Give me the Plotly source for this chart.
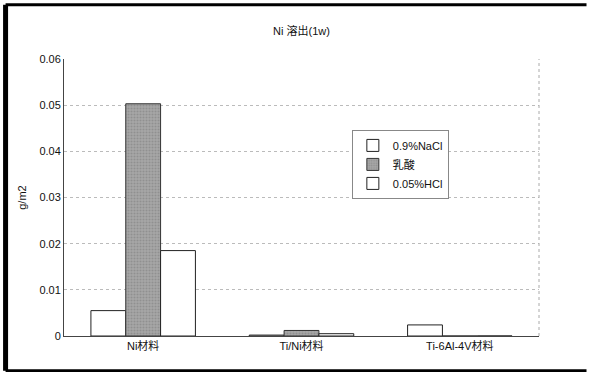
import plotly.graph_objects as go

categories = ["Ni材料", "Ti/Ni材料", "Ti-6Al-4V材料"]
nacl = [0.0055, 0.0002, 0.0024]
lactic = [0.0503, 0.0012, 0.0]
hcl = [0.0185, 0.0005, 0.0]
series_names = ["0.9%NaCl", "乳酸", "0.05%HCl"]
ytick_vals = [0, 0.01, 0.02, 0.03, 0.04, 0.05, 0.06]
ytick_text = ["0", "0.01", "0.02", "0.03", "0.04", "0.05", "0.06"]

FONT = "Liberation Sans, Noto Sans CJK JP, sans-serif"

fig = go.Figure()
fig.add_trace(go.Bar(x=categories, y=nacl, name=series_names[0],
                     marker=dict(color="white", line=dict(color="#222", width=1))))
fig.add_trace(go.Bar(x=categories, y=lactic, name=series_names[1],
                     marker=dict(color="#9c9c9c", line=dict(color="#333", width=1),
                                 pattern=dict(shape=".", fgcolor="#777", bgcolor="#a8a8a8", size=3, solidity=0.4))))
fig.add_trace(go.Bar(x=categories, y=hcl, name=series_names[2],
                     marker=dict(color="white", line=dict(color="#222", width=1))))

fig.update_layout(
    width=592, height=372,
    margin=dict(l=64, r=53, t=59, b=36, autoexpand=False),
    paper_bgcolor="white", plot_bgcolor="white",
    font=dict(family=FONT, size=11, color="#111"),
    title=dict(text="Ni 溶出(1w)", x=(64 + 475 * 0.5) / 592, xanchor="center", y=1 - 31 / 372, yanchor="middle",
               font=dict(size=11, family=FONT)),
    barmode="group", bargap=0.34, bargroupgap=0,
    showlegend=True,
    legend=dict(x=0.606, y=0.744, xanchor="left", yanchor="top",
                bgcolor="white", bordercolor="#888", borderwidth=1,
                font=dict(size=11, family=FONT), itemwidth=30, tracegroupgap=4),
    xaxis=dict(showline=True, linecolor="#444", linewidth=1, ticks="", showgrid=False,
               mirror=False, tickfont=dict(size=11), automargin=False),
    yaxis=dict(range=[0, 0.06], tickvals=ytick_vals, ticktext=ytick_text,
               showline=True, linecolor="#444", linewidth=1, ticks="",
               showgrid=True, gridcolor="#bbb", griddash="dot", gridwidth=1,
               zeroline=False, tickfont=dict(size=11), automargin=False,
               title=dict(text="g/m2", font=dict(size=11), standoff=10)),
)

# dotted right border of plot area
fig.add_shape(type="line", xref="paper", yref="paper", x0=1, x1=1, y0=0, y1=1,
              line=dict(color="#aaa", width=1, dash="dot"))
# outer frame (left thick, top, bottom)
fig.add_shape(type="line", xref="paper", yref="paper",
              x0=-0.123, x1=-0.123, y0=-0.125, y1=1.196,
              line=dict(color="black", width=5))
fig.add_shape(type="line", xref="paper", yref="paper",
              x0=-0.123, x1=1.10, y0=1.196, y1=1.196,
              line=dict(color="black", width=3))
fig.add_shape(type="line", xref="paper", yref="paper",
              x0=-0.123, x1=1.10, y0=-0.125, y1=-0.125,
              line=dict(color="black", width=3))

fig.write_html("out.html", config={"displayModeBar": False},
               post_script="document.body.style.margin='0';document.body.style.overflow='hidden';")
